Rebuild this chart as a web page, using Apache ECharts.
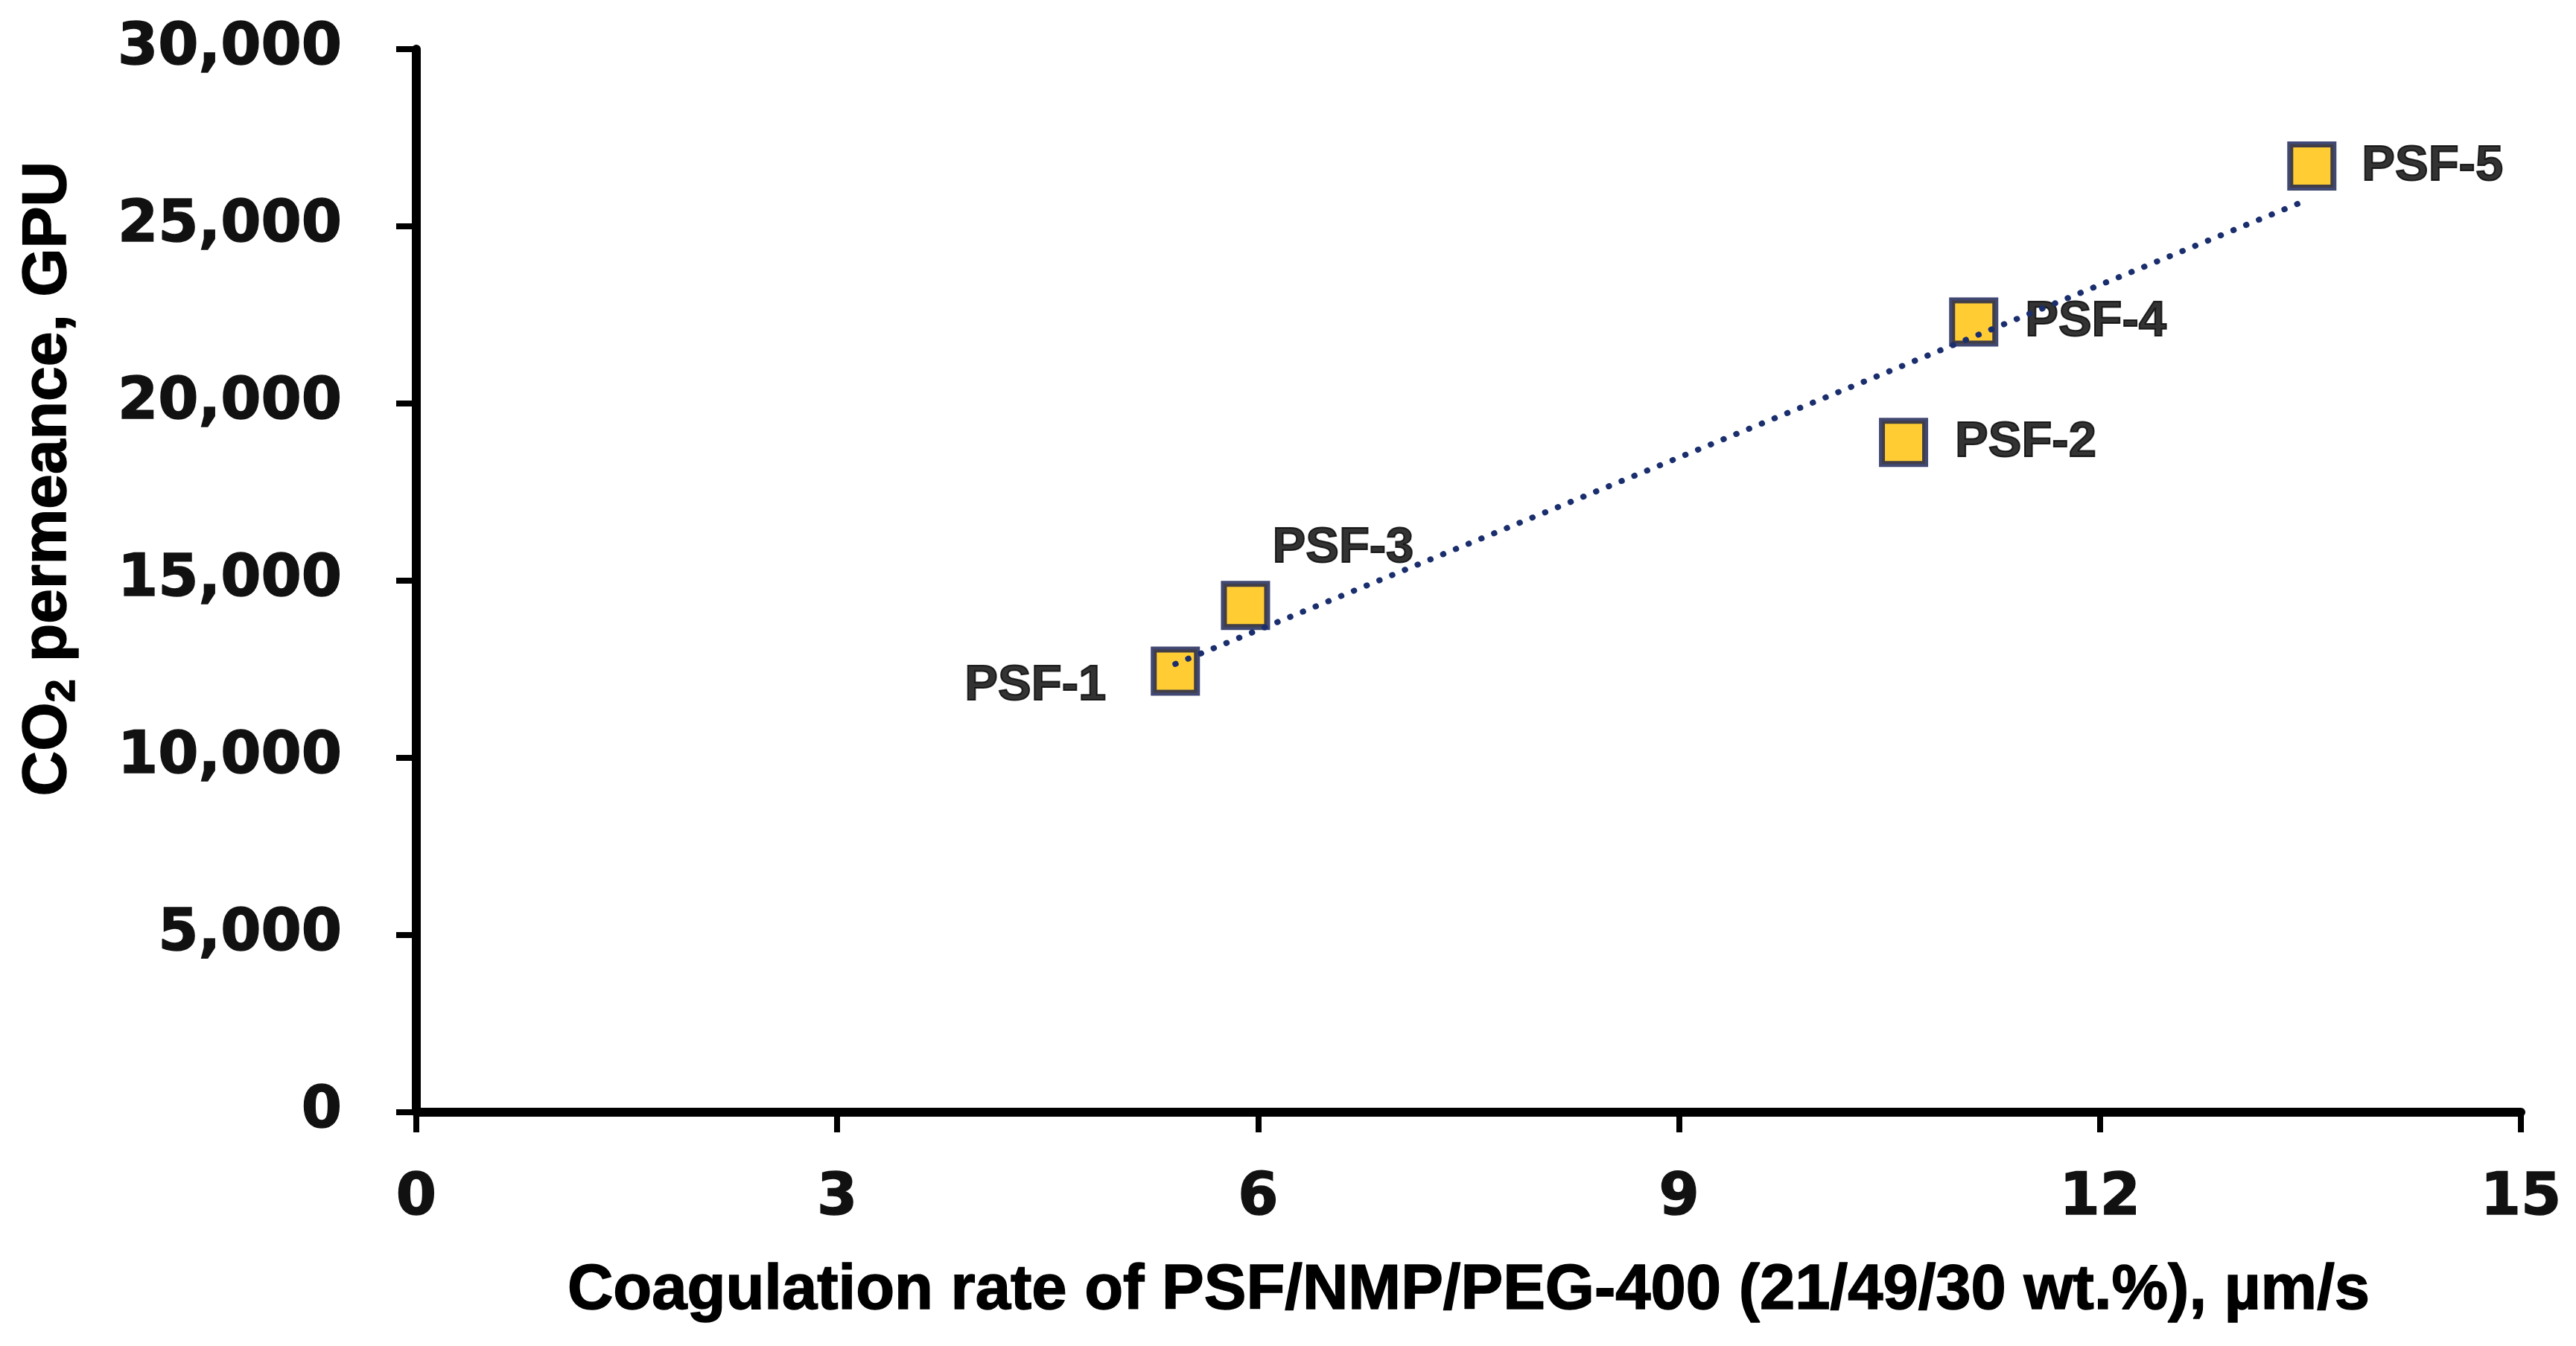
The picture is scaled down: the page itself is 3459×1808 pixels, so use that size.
<!DOCTYPE html>
<html>
<head>
<meta charset="utf-8">
<script src="https://cdn.jsdelivr.net/npm/echarts@6/dist/echarts.min.js"></script>
<style>
html,body{margin:0;padding:0;background:#fff;}
#chart{width:3459px;height:1808px;}
</style>
</head>
<body>
<div id="chart"></div>
<script>
// Data
var sampleNames = ['PSF-1', 'PSF-3', 'PSF-2', 'PSF-4', 'PSF-5'];
var coagulationRate = [5.41, 5.91, 10.60, 11.10, 13.51];      // µm/s
var co2Permeance = [12450, 14300, 18900, 22300, 26700];        // GPU
var trendX = [5.41, 13.48];
var trendY = [12650, 25750];
var xTicks = [0, 3, 6, 9, 12, 15];
var yTicks = [0, 5000, 10000, 15000, 20000, 25000, 30000];

var labelPlacement = {
  'PSF-1': {position: 'left', distance: 60, offset: [0, 20]},
  'PSF-3': {position: 'top', distance: 10, offset: [131, 0]},
  'PSF-2': {position: 'right', distance: 36, offset: [0, 0]},
  'PSF-4': {position: 'right', distance: 36, offset: [0, 0]},
  'PSF-5': {position: 'right', distance: 34, offset: [0, 0]}
};

var points = sampleNames.map(function (n, i) {
  var p = labelPlacement[n];
  return {
    name: n,
    value: [coagulationRate[i], co2Permeance[i]],
    label: {position: p.position, distance: p.distance, offset: p.offset}
  };
});
var trend = trendX.map(function (x, i) { return [x, trendY[i]]; });

var chart = echarts.init(document.getElementById('chart'));
var tickFont = {fontFamily: 'DejaVu Sans', fontWeight: 'bold', fontSize: 78, color: '#111',
                textBorderColor: '#111', textBorderWidth: 1.5};

chart.setOption({
  backgroundColor: '#ffffff',
  animation: false,
  grid: {left: 559, right: 74, top: 66, bottom: 314, containLabel: false},
  xAxis: {
    type: 'value', min: xTicks[0], max: xTicks[xTicks.length - 1], interval: 3,
    splitLine: {show: false},
    axisLine: {show: true, onZero: false, lineStyle: {color: '#000', width: 12}},
    axisTick: {show: true, inside: false, length: 27, lineStyle: {color: '#000', width: 8}},
    axisLabel: Object.assign({margin: 78}, tickFont),
    name: 'Coagulation rate of PSF/NMP/PEG-400 (21/49/30 wt.%), µm/s',
    nameLocation: 'middle', nameGap: 198,
    nameTextStyle: {fontFamily: 'Liberation Sans', fontWeight: 'bold', fontSize: 85, color: '#000',
                    textBorderColor: '#000', textBorderWidth: 1.5}
  },
  yAxis: {
    type: 'value', min: yTicks[0], max: yTicks[yTicks.length - 1], interval: 5000,
    splitLine: {show: false},
    axisLine: {show: true, onZero: false, lineStyle: {color: '#000', width: 12}},
    axisTick: {show: true, inside: false, length: 27, lineStyle: {color: '#000', width: 8}},
    axisLabel: Object.assign({margin: 100, formatter: function (v) { return v.toLocaleString('en-US'); }}, tickFont)
  },
  graphic: [{
    type: 'text',
    left: 22, top: 216,
    rotation: Math.PI / 2,
    originX: 0, originY: 0,
    style: {
      text: '{a|CO}{s|2}{a| permeance, GPU}',
      rich: {
        a: {fontFamily: 'Liberation Sans', fontWeight: 'bold', fontSize: 84, fill: '#000', lineHeight: 96,
            stroke: '#000', lineWidth: 1.5},
        s: {fontFamily: 'Liberation Sans', fontWeight: 'bold', fontSize: 56, fill: '#000', lineHeight: 96,
            verticalAlign: 'bottom', stroke: '#000', lineWidth: 1.5}
      }
    }
  }],
  series: [{
    type: 'scatter',
    data: points,
    symbol: 'rect',
    symbolSize: 58,
    z: 2,
    itemStyle: {color: '#FFC000', borderColor: '#111a4d', borderWidth: 8},
    label: {
      show: true, formatter: '{b}',
      fontFamily: 'Liberation Sans', fontWeight: 'bold', fontSize: 67, color: '#000',
      textBorderColor: '#000', textBorderWidth: 2
    }
  }, {
    type: 'line',
    data: trend,
    symbol: 'none',
    z: 3,
    lineStyle: {color: '#1a2e6e', width: 8, type: [0.5, 18], cap: 'round'}
  }]
});
</script>
</body>
</html>
